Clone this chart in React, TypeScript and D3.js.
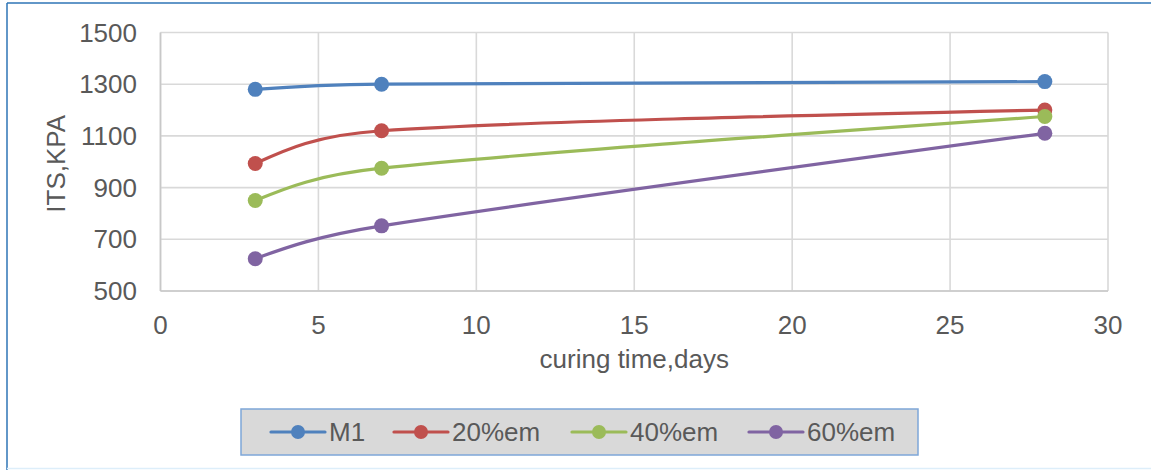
import React from "react";
import * as d3 from "d3";

const days = [3, 7, 28];
const seriesNames = ["M1", "20%em", "40%em", "60%em"];
const m1 = [1280, 1300, 1310];
const em20 = [993, 1120, 1200];
const em40 = [850, 975, 1175];
const em60 = [625, 752, 1110];
const xTicks = [0, 5, 10, 15, 20, 25, 30];
const yTicks = [500, 700, 900, 1100, 1300, 1500];
const colors = ["#4f81bd", "#c0504d", "#9bbb59", "#8064a2"];

const W = 1151;
const H = 470;
const font = "'Liberation Sans', Arial, sans-serif";
const textColor = "#595959";

type Pt = [number, number];

// Smoothed Bezier path through pixel points: tangent direction from the
// neighbouring points, control distance limited by the adjacent segment,
// and natural (zero-curvature) ends.
function smoothPath(pts: Pt[]): string {
  const n = pts.length;
  const p = d3.path();
  if (n === 0) return "";
  p.moveTo(pts[0][0], pts[0][1]);
  if (n === 1) return p.toString();
  const outC: Pt[] = new Array(n);
  const inC: Pt[] = new Array(n);
  for (let i = 1; i < n - 1; i++) {
    const tx = (pts[i + 1][0] - pts[i - 1][0]) / 6;
    const ty = (pts[i + 1][1] - pts[i - 1][1]) / 6;
    const len = Math.hypot(tx, ty) || 1;
    const lenOut = Math.hypot(pts[i + 1][0] - pts[i][0], pts[i + 1][1] - pts[i][1]);
    const lenIn = Math.hypot(pts[i][0] - pts[i - 1][0], pts[i][1] - pts[i - 1][1]);
    const dOut = Math.min(len, lenOut / 2);
    const dIn = Math.min(len, lenIn / 2);
    outC[i] = [pts[i][0] + (tx / len) * dOut, pts[i][1] + (ty / len) * dOut];
    inC[i] = [pts[i][0] - (tx / len) * dIn, pts[i][1] - (ty / len) * dIn];
  }
  if (n === 2) {
    outC[0] = [pts[0][0] + (pts[1][0] - pts[0][0]) / 3, pts[0][1] + (pts[1][1] - pts[0][1]) / 3];
    inC[1] = [pts[1][0] - (pts[1][0] - pts[0][0]) / 3, pts[1][1] - (pts[1][1] - pts[0][1]) / 3];
  } else {
    outC[0] = [(pts[0][0] + inC[1][0]) / 2, (pts[0][1] + inC[1][1]) / 2];
    inC[n - 1] = [(pts[n - 1][0] + outC[n - 2][0]) / 2, (pts[n - 1][1] + outC[n - 2][1]) / 2];
  }
  for (let i = 0; i < n - 1; i++) {
    p.bezierCurveTo(outC[i][0], outC[i][1], inC[i + 1][0], inC[i + 1][1], pts[i + 1][0], pts[i + 1][1]);
  }
  return p.toString();
}

export default function App() {
  const x = d3.scaleLinear().domain([0, 30]).range([160.5, 1108]);
  const y = d3.scaleLinear().domain([500, 1500]).range([291, 32.5]);
  const values = [m1, em20, em40, em60];

  const legendX = [271, 394, 572, 749];

  return (
    <div style={{ position: "fixed", left: 0, top: 0 }}>
      <svg width={W} height={H} style={{ display: "block", background: "#fff" }}>
        {/* outer frame */}
        <line x1={7} x2={W} y1={3} y2={3} stroke="#2e75b6" strokeWidth={1.5} />
        <line x1={7} x2={7} y1={3} y2={H} stroke="#2e75b6" strokeWidth={1.5} />
        <line x1={7} x2={W} y1={468.5} y2={468.5} stroke="#ddeefa" strokeWidth={1.5} />

        {/* grid */}
        {yTicks.map((t) => (
          <line key={"gy" + t} x1={x(0)} x2={x(30)} y1={y(t)} y2={y(t)} stroke="#d9d9d9" strokeWidth={1.6} />
        ))}
        {xTicks.map((t) => (
          <line key={"gx" + t} x1={x(t)} x2={x(t)} y1={y(1500)} y2={y(500)} stroke="#d9d9d9" strokeWidth={1.6} />
        ))}
        <line x1={x(0)} x2={x(30)} y1={y(500)} y2={y(500)} stroke="#c8c8c8" strokeWidth={1.6} />
        <line x1={x(0)} x2={x(0)} y1={y(1500)} y2={y(500)} stroke="#c8c8c8" strokeWidth={1.6} />

        {/* tick labels */}
        {yTicks.map((t) => (
          <text key={"ty" + t} x={137} y={y(t)} dy="0.35em" textAnchor="end" fontFamily={font} fontSize={26} fill={textColor}>
            {t}
          </text>
        ))}
        {xTicks.map((t) => (
          <text key={"tx" + t} x={x(t)} y={325} dy="0.35em" textAnchor="middle" fontFamily={font} fontSize={26} fill={textColor}>
            {t}
          </text>
        ))}

        {/* axis titles */}
        <text x={x(15)} y={368} textAnchor="middle" fontFamily={font} fontSize={26} fill={textColor}>
          curing time,days
        </text>
        <text
          transform={`translate(56, ${y(1000) + 2}) rotate(-90)`}
          textAnchor="middle"
          dy="0.35em"
          fontFamily={font}
          fontSize={26}
          fill={textColor}
        >
          ITS,KPA
        </text>

        {/* series */}
        {values.map((vals, i) => {
          const pts = days.map((d, j) => [x(d), y(vals[j])] as Pt);
          return (
            <g key={seriesNames[i]}>
              <path d={smoothPath(pts)} fill="none" stroke={colors[i]} strokeWidth={3.2} strokeLinecap="round" />
              {pts.map((p, j) => (
                <circle key={j} cx={p[0]} cy={p[1]} r={7.5} fill={colors[i]} />
              ))}
            </g>
          );
        })}

        {/* legend */}
        <rect x={241} y={409} width={677} height={46} fill="#d9d9d9" stroke="#7ea6d8" strokeWidth={1.5} />
        {seriesNames.map((n, i) => (
          <g key={"lg" + n}>
            <line x1={legendX[i]} x2={legendX[i] + 54} y1={432} y2={432} stroke={colors[i]} strokeWidth={3.2} strokeLinecap="round" />
            <circle cx={legendX[i] + 27} cy={432} r={7} fill={colors[i]} />
            <text x={legendX[i] + 58} y={432} dy="0.35em" fontFamily={font} fontSize={26} fill={textColor}>
              {n}
            </text>
          </g>
        ))}
      </svg>
    </div>
  );
}
